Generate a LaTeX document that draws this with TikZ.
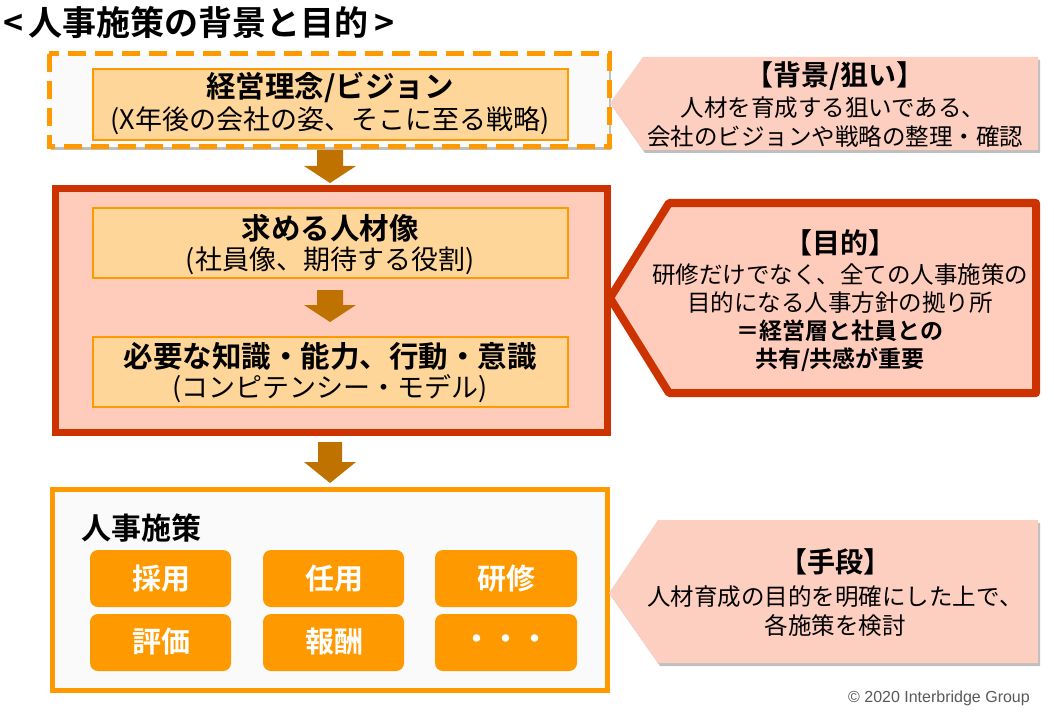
\documentclass[tikz,border=0pt]{standalone}
\usepackage{fontspec}
\setmainfont{Noto Sans CJK JP}[BoldFont={Noto Sans CJK JP Bold}]
\newfontfamily\cpfont{Liberation Sans}
\usetikzlibrary{shadows,calc}
\definecolor{orng}{HTML}{FF9900}
\definecolor{lorng}{HTML}{FFD699}
\definecolor{redd}{HTML}{CC3300}
\definecolor{salmon}{HTML}{FFCCBB}
\definecolor{calfill}{HTML}{FDCFC0}
\definecolor{arrowc}{HTML}{BF7200}
\definecolor{offw}{HTML}{FAFAFA}
\begin{document}
\begin{tikzpicture}[x=1pt,y=-1pt,
  shd/.style={drop shadow={shadow xshift=2pt,shadow yshift=-3pt,opacity=0.25,fill=black}},
  innerbox/.style={draw=orng,line width=2pt,fill=lorng},
  hd/.style={inner sep=0pt,font=\bfseries\fontsize{29.5}{32}\selectfont},
  sub/.style={inner sep=0pt,font=\fontsize{27}{30}\selectfont},
  chd/.style={inner sep=0pt,font=\bfseries\fontsize{28}{30}\selectfont},
  cb/.style={inner sep=0pt,font=\fontsize{23.5}{26}\selectfont},
  cbb/.style={inner sep=0pt,font=\bfseries\fontsize{23}{26}\selectfont},
  btn/.style={fill=orng,rounded corners=8pt},
  btxt/.style={inner sep=0pt,text=white,font=\bfseries\fontsize{29}{30}\selectfont},
  blockarrow/.style={fill=arrowc}
]
\useasboundingbox (0,0) rectangle (1054,714);
\fill[white] (0,0) rectangle (1054,714);

% title
\node[anchor=west,inner sep=0pt,font=\bfseries\fontsize{34}{36}\selectfont] (title) at (3,22) {<\,人事施策の背景と目的\,>};

% dashed box
\fill[offw,shd] (49,54) rectangle (609,147);
\draw[orng,line width=5pt,dash pattern=on 18pt off 9pt] (49,54) rectangle (609,147);
\draw[innerbox] (93,69) rectangle (568,140);
\node[hd] (vision) at (330,88) {経営理念/ビジョン};
\node[sub] (visionsub) at (330,121) {(X年後の会社の姿、そこに至る戦略)};

% arrow 1
\coordinate (a1) at (330,150);
\fill[blockarrow] ($(a1)+(-13,0)$) -- ($(a1)+(13,0)$) -- ($(a1)+(13,16)$) -- ($(a1)+(26,16)$) -- ($(a1)+(0,33)$) -- ($(a1)+(-26,16)$) -- ($(a1)+(-13,16)$) -- cycle;

% red box
\draw[redd,line width=7pt,fill=salmon,shd] (55,189) rectangle (607,432);
\draw[innerbox] (93,208) rectangle (568,278);
\node[hd] (jinzai) at (330,228) {求める人材像};
\node[sub] (jinzaisub) at (330,261) {(社員像、期待する役割)};

\coordinate (a2) at (330,290);
\fill[blockarrow] ($(a2)+(-13,0)$) -- ($(a2)+(13,0)$) -- ($(a2)+(13,15)$) -- ($(a2)+(26,15)$) -- ($(a2)+(0,32)$) -- ($(a2)+(-26,15)$) -- ($(a2)+(-13,15)$) -- cycle;

\draw[innerbox] (93,337) rectangle (568,407);
\node[hd] (chishiki) at (330,356) {必要な知識・能力、行動・意識};
\node[sub] (chishikisub) at (330,389) {(コンピテンシー・モデル)};

% arrow 3
\coordinate (a3) at (330,442);
\fill[blockarrow] ($(a3)+(-12,0)$) -- ($(a3)+(12,0)$) -- ($(a3)+(12,20)$) -- ($(a3)+(26,20)$) -- ($(a3)+(0,41)$) -- ($(a3)+(-26,20)$) -- ($(a3)+(-12,20)$) -- cycle;

% bottom box
\draw[orng,line width=5pt,fill=offw,shd] (52,489) rectangle (607,690);
\node[anchor=west,inner sep=0pt,font=\bfseries\fontsize{30}{32}\selectfont] (sesaku) at (81,528) {人事施策};
\fill[btn] (90,550) rectangle (231,607);
\fill[btn] (263,550) rectangle (404,607);
\fill[btn] (435,550) rectangle (577,607);
\fill[btn] (90,614) rectangle (231,671);
\fill[btn] (263,614) rectangle (404,671);
\fill[btn] (435,614) rectangle (577,671);
\node[btxt] (saiyo) at (161,579) {採用};
\node[btxt] (ninyo) at (334,579) {任用};
\node[btxt] (kenshu) at (506,579) {研修};
\node[btxt] (hyoka) at (161,642) {評価};
\node[btxt] (hoshu) at (334,642) {報酬};
\node[btxt] (dots) at (506,642) {・・・};

% callout 1
\fill[calfill,shd] (610,103) -- (643,57) -- (1038,57) -- (1038,150) -- (643,150) -- cycle;
\node[chd] (c1h) at (835,76) {【背景/狙い】};
\node[cb] (c1a) at (833,108) {人材を育成する狙いである、};
\node[cb] (c1b) at (835,137) {会社のビジョンや戦略の整理・確認};

% callout 2
\draw[redd,line width=8pt,fill=salmon,line join=round,shd] (610,298) -- (669,203) -- (1036,203) -- (1036,393) -- (669,393) -- cycle;
\node[chd] (c2h) at (840,243) {【目的】};
\node[cb] (c2a) at (840,275) {研修だけでなく、全ての人事施策の};
\node[cb] (c2b) at (840,303) {目的になる人事方針の拠り所};
\node[cbb] (c2c) at (840,331) {＝経営層と社員との};
\node[cbb] (c2d) at (840,360) {共有/共感が重要};

% callout 3
\fill[calfill,shd] (609,593) -- (658,520) -- (1038,520) -- (1038,663) -- (658,663) -- cycle;
\node[chd] (c3h) at (835,562) {【手段】};
\node[cb] (c3a) at (835,597) {人材育成の目的を明確にした上で、};
\node[cb] (c3b) at (835,626) {各施策を検討};

% copyright
\node[anchor=east,inner sep=0pt,text=black!65,font=\cpfont\fontsize{16}{18}\selectfont] (copy) at (1030,698) {© 2020 Interbridge Group};
\end{tikzpicture}
\end{document}
